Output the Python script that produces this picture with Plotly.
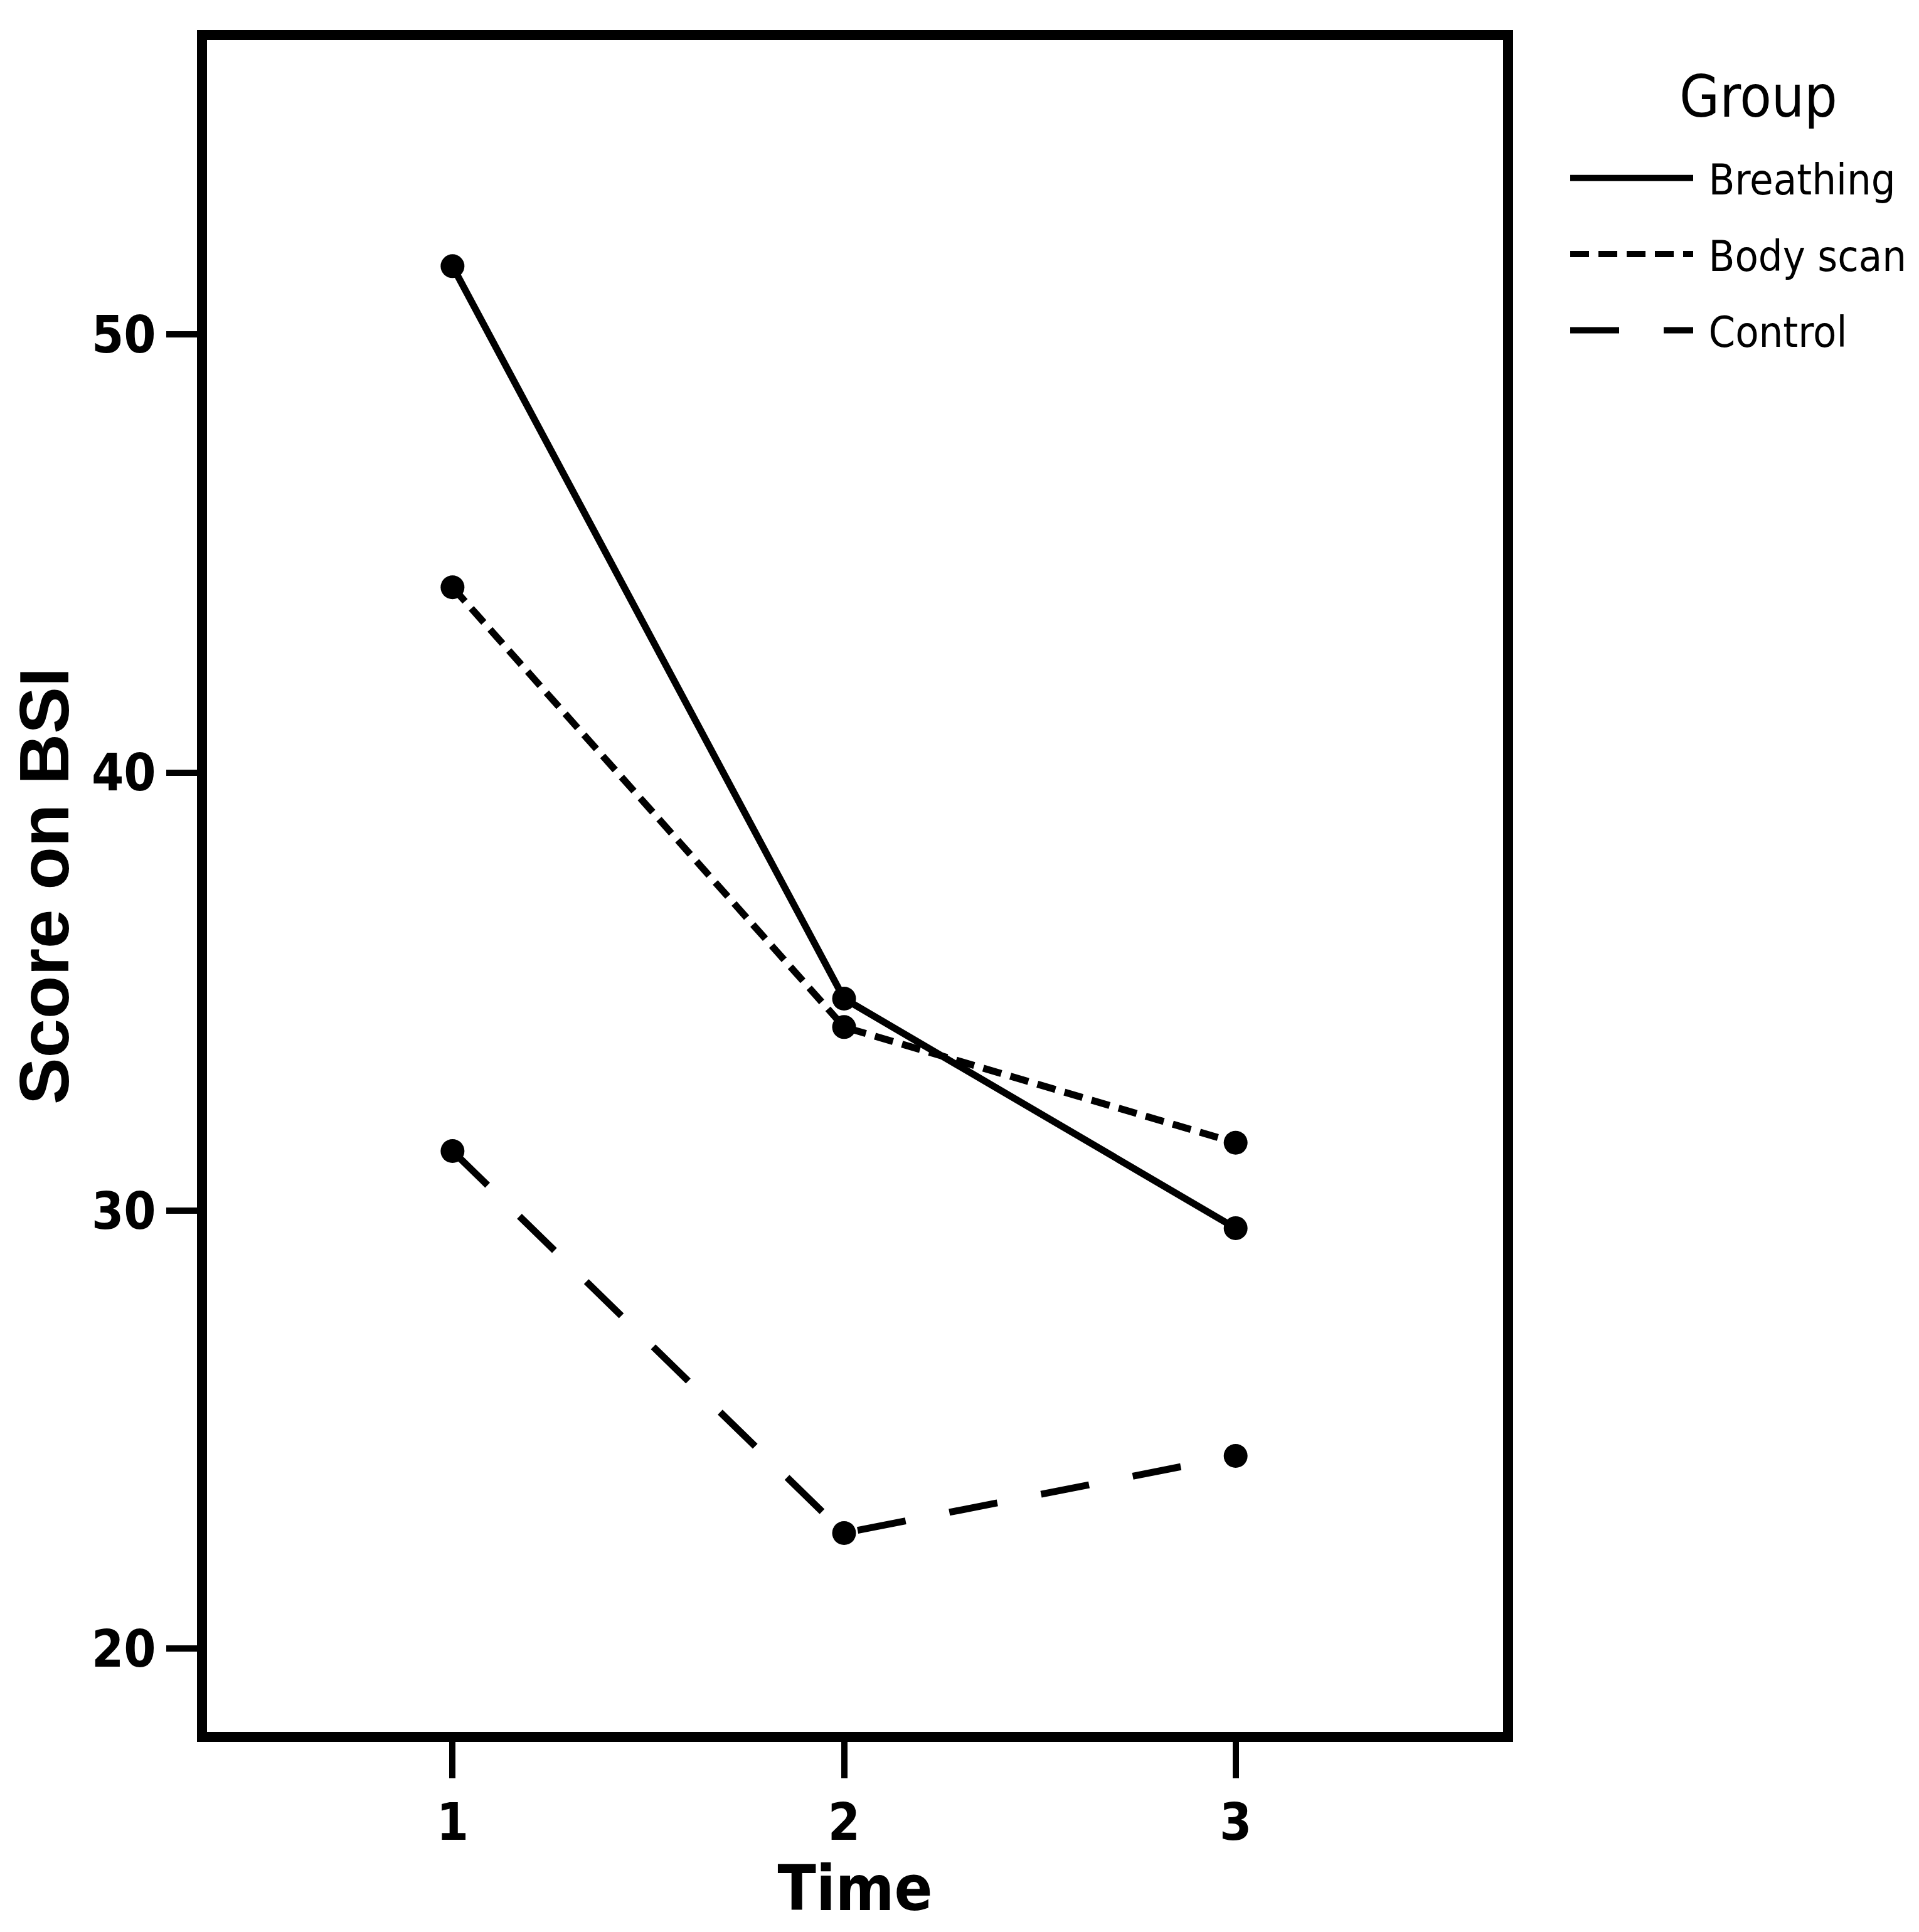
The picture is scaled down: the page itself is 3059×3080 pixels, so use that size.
import plotly.graph_objects as go

# ---- data ----
times = [1, 2, 3]
groups = ["Breathing", "Body scan", "Control"]
breathing = [51.56, 34.84, 29.6]
body_scan = [44.23, 34.19, 31.55]
control = [31.36, 22.64, 24.4]
y_ticks = [20, 30, 40, 50]
x_ticks = [1, 2, 3]

series = [breathing, body_scan, control]
dashes = ["solid", "30px,15px", "78px,71px"]

NARROW = "DejaVu Sans Condensed, Liberation Sans Narrow, Arial Narrow, sans-serif"
WIDE = "Liberation Sans, Arial, sans-serif"

W, H = 3059, 3080
ML, MR, MT, MB = 316, 671, 56, 327

fig = go.Figure()
for name, vals, dash in zip(groups, series, dashes):
    fig.add_trace(go.Scatter(
        x=times, y=vals, mode="lines+markers", name=name, showlegend=False,
        line=dict(color="black", width=11, dash=dash),
        marker=dict(color="black", size=38, symbol="circle"),
    ))
# legend entries (lines only)
for i, (name, dash) in enumerate(zip(groups, dashes)):
    fig.add_trace(go.Scatter(
        x=[None], y=[None], mode="lines", name="\u00a0" + name, legendgroup=f"g{i}",
        line=dict(color="black", width=11, dash=dash),
    ))

plot_w = W - ML - MR
plot_h = H - MT - MB

fig.add_annotation(
    text="Group", showarrow=False,
    xref="paper", yref="paper",
    x=(2796 - ML) / plot_w, y=(H - MB - 147) / plot_h,
    xanchor="center", yanchor="middle",
    font=dict(family=NARROW, size=92, color="black"),
)

fig.update_layout(
    width=W, height=H,
    margin=dict(l=ML, r=MR, t=MT, b=MB),
    paper_bgcolor="white", plot_bgcolor="white",
    showlegend=True,
    legend=dict(
        xref="container", yref="container",
        x=2490 / W, xanchor="left", y=1 - 225 / H, yanchor="top",
        font=dict(family=NARROW, size=68, color="black"),
        itemwidth=196, tracegroupgap=30,
        bgcolor="rgba(0,0,0,0)",
    ),
    xaxis=dict(
        range=[0.373, 3.683], tickvals=x_ticks, ticktext=[str(t) for t in x_ticks],
        showgrid=False, zeroline=False,
        showline=True, linecolor="black", linewidth=16, mirror=True,
        ticks="outside", ticklen=58, tickwidth=10, tickcolor="black",
        tickfont=dict(family=NARROW, size=82, color="black", weight="bold"),
        title=dict(text="Time", standoff=18,
                   font=dict(family=NARROW, size=100, color="black", weight="bold")),
    ),
    yaxis=dict(
        range=[18.1, 56.72], tickvals=y_ticks, ticktext=[str(t) for t in y_ticks],
        showgrid=False, zeroline=False,
        showline=True, linecolor="black", linewidth=16, mirror=True,
        ticks="outside", ticklen=49, tickwidth=10, tickcolor="black",
        tickfont=dict(family=NARROW, size=82, color="black", weight="bold"),
        title=dict(text="Score on BSI", standoff=48,
                   font=dict(family=WIDE, size=112, color="black", weight="bold")),
    ),
)

fig.write_html("out.html")
